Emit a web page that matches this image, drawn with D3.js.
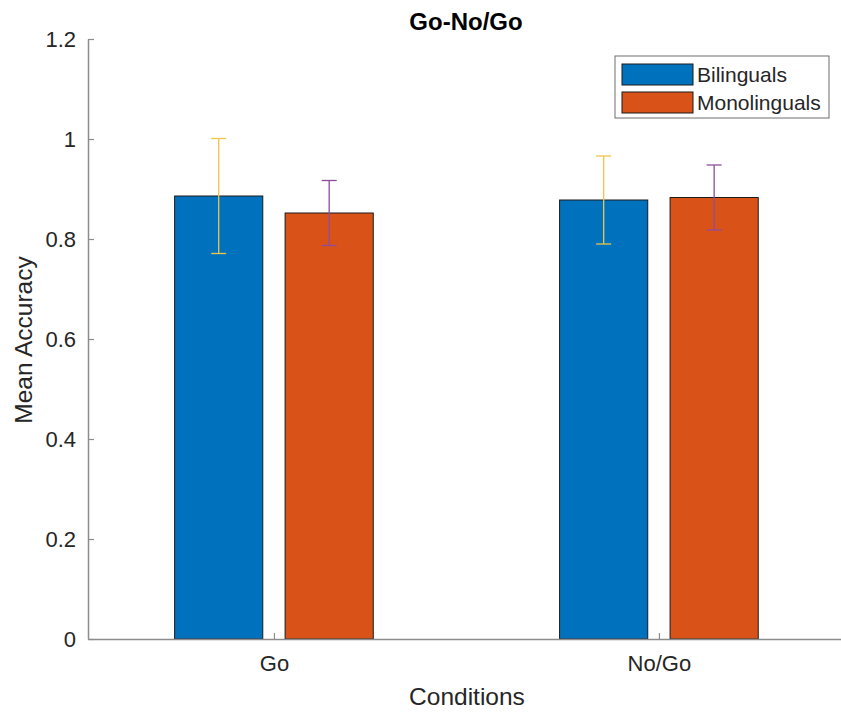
<!DOCTYPE html>
<html>
<head>
<meta charset="utf-8">
<script src="https://cdn.jsdelivr.net/npm/d3@7"></script>
<style>
  html, body { margin: 0; padding: 0; background: #fff; }
  svg { display: block; font-family: "Liberation Sans", Arial, sans-serif; }
</style>
</head>
<body>
<svg id="chart" width="841" height="712"></svg>
<script>
// Condition groups along the x axis
const conditions = ["Go", "No/Go"];
// Group names for the legend
const groups = ["Bilinguals", "Monolinguals"];
// Mean accuracy per group, one value per condition
const bilingualMeans = [0.886, 0.878];
const monolingualMeans = [0.852, 0.883];
// Error half-widths per group, one value per condition
const bilingualErr = [0.115, 0.088];
const monolingualErr = [0.065, 0.065];
// Y tick values and labels
const yTicks = [0, 0.2, 0.4, 0.6, 0.8, 1, 1.2];
const yTickLabels = ["0", "0.2", "0.4", "0.6", "0.8", "1", "1.2"];

const barColors = ["#0072BD", "#D95319"];
const errColors = ["#EDC54A", "#8E4C9C"];
const series = [
  { name: groups[0], means: bilingualMeans, err: bilingualErr },
  { name: groups[1], means: monolingualMeans, err: monolingualErr }
];

const svg = d3.select("#chart");
const axisColor = "#8c8c8c";
const textColor = "#262626";
const fontFamily = "Liberation Sans, Arial, sans-serif";

// Axes geometry
const plotLeft = 88, plotRight = 841, plotTop = 39, plotBottom = 639;
const x = d3.scaleLinear().domain([0.517, 2.473]).range([plotLeft, plotRight]);
const y = d3.scaleLinear().domain([0, 1.2]).range([plotBottom, plotTop]);

const barWidth = 0.229;      // in x units
const groupOffset = 0.1435;  // centre offset of each bar from the group position

// Bars
series.forEach((s, si) => {
  const off = (si === 0 ? -1 : 1) * groupOffset;
  svg.append("g").selectAll("rect")
    .data(s.means)
    .join("rect")
    .attr("x", (d, i) => x(i + 1 + off - barWidth / 2))
    .attr("width", x(barWidth) - x(0))
    .attr("y", d => y(d))
    .attr("height", d => y(0) - y(d))
    .attr("fill", barColors[si])
    .attr("stroke", "#1a1a1a")
    .attr("stroke-width", 1);
});

// Error bars
series.forEach((s, si) => {
  const off = (si === 0 ? -1 : 1) * groupOffset;
  const g = svg.append("g").attr("stroke", errColors[si]).attr("stroke-width", 1.3).attr("fill", "none");
  s.means.forEach((m, i) => {
    const cx = x(i + 1 + off);
    const hi = y(m + s.err[i]), lo = y(m - s.err[i]);
    const cap = 7.5;
    g.append("line").attr("x1", cx).attr("x2", cx).attr("y1", hi).attr("y2", lo);
    g.append("line").attr("x1", cx - cap).attr("x2", cx + cap).attr("y1", hi).attr("y2", hi);
    g.append("line").attr("x1", cx - cap).attr("x2", cx + cap).attr("y1", lo).attr("y2", lo);
  });
});

// Y axis
const yAxis = d3.axisLeft(y)
  .tickValues(yTicks)
  .tickFormat((d, i) => yTickLabels[i])
  .tickSizeInner(-6)
  .tickSizeOuter(0)
  .tickPadding(12);
const gy = svg.append("g").attr("transform", `translate(${plotLeft},0)`).call(yAxis);
gy.select(".domain").attr("stroke", axisColor).attr("stroke-width", 1.5);
gy.selectAll(".tick line").attr("stroke", axisColor).attr("stroke-width", 1.2);
gy.selectAll(".tick text").attr("fill", textColor).attr("font-size", 22)
  .attr("font-family", fontFamily);

// X axis
const xAxis = d3.axisBottom(x)
  .tickValues([1, 2])
  .tickFormat((d, i) => conditions[i])
  .tickSizeInner(-6)
  .tickSizeOuter(0)
  .tickPadding(16);
const gx = svg.append("g").attr("transform", `translate(0,${plotBottom})`).call(xAxis);
gx.select(".domain").attr("stroke", axisColor).attr("stroke-width", 1.5);
gx.selectAll(".tick line").attr("stroke", axisColor).attr("stroke-width", 1.2);
gx.selectAll(".tick text").attr("fill", textColor).attr("font-size", 22)
  .attr("font-family", fontFamily);

// Title and axis labels
svg.append("text").attr("x", 466).attr("y", 30).attr("text-anchor", "middle")
  .attr("font-size", 24).attr("font-weight", "bold").attr("fill", "#000")
  .text("Go-No/Go");
svg.append("text").attr("x", 467).attr("y", 705).attr("text-anchor", "middle")
  .attr("font-size", 24.5).attr("fill", textColor).text("Conditions");
svg.append("text").attr("transform", `translate(32,${340}) rotate(-90)`).attr("text-anchor", "middle")
  .attr("font-size", 24.5).attr("fill", textColor).text("Mean Accuracy");

// Legend
const lg = svg.append("g");
lg.append("rect").attr("x", 615).attr("y", 56).attr("width", 214).attr("height", 62)
  .attr("fill", "#fff").attr("stroke", "#6e6e6e").attr("stroke-width", 1);
groups.forEach((name, i) => {
  const yy = 64 + i * 28;
  lg.append("rect").attr("x", 622).attr("y", yy).attr("width", 71).attr("height", 21)
    .attr("fill", barColors[i]).attr("stroke", "#1a1a1a").attr("stroke-width", 1);
  lg.append("text").attr("x", 697).attr("y", yy + 18).attr("font-size", 21)
    .attr("fill", textColor).text(name);
});
</script>
</body>
</html>
